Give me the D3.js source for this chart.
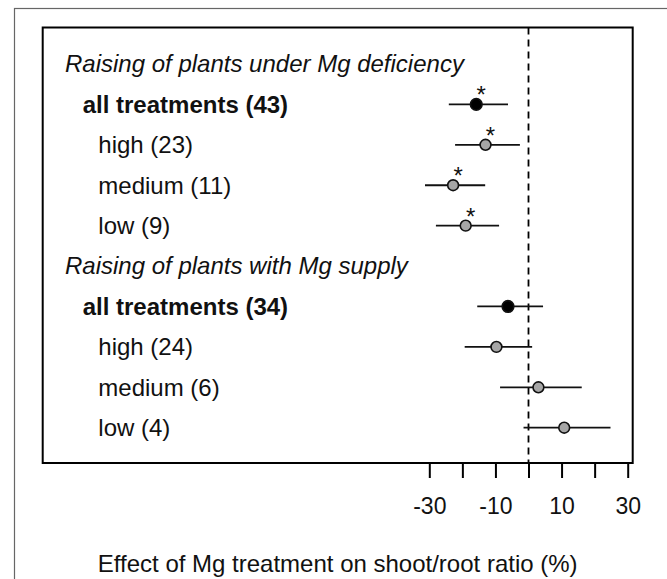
<!DOCTYPE html>
<meta charset='utf-8'>
<style>
	body { margin: 0; background: #fff; }
	svg { font-family: 'Liberation Sans', Arial, sans-serif; }
</style>
<body>
	<div id='container'></div>
<script src='https://d3js.org/d3.v7.min.js'></script>
<script>
	// rows, top to bottom
	const labels = [
		'Raising of plants under Mg deficiency',
		'all treatments (43)', 'high (23)', 'medium (11)', 'low (9)',
		'Raising of plants with Mg supply',
		'all treatments (34)', 'high (24)', 'medium (6)', 'low (4)',
	];
	const kinds = [ 'group', 'total', 'sub', 'sub', 'sub', 'group', 'total', 'sub', 'sub', 'sub' ];
	const means = [ null, -15.8, -13.0, -22.8, -19.0, null, -6.2, -9.7, 3.0, 10.8 ];
	const lower = [ null, -24.1, -22.2, -31.3, -28.0, null, -15.5, -19.3, -8.6, -1.5 ];
	const upper = [ null, -6.2, -2.6, -13.1, -8.9, null, 4.4, 1.1, 16.1, 24.8 ];
	const signif = [ false, true, true, true, true, false, false, false, false, false ];

	const ticks = [ -30, -20, -10, 0, 10, 20, 30 ];
	const tickLabels = [ '-30', '', '-10', '', '10', '', '30' ];
	const xTitle = 'Effect of Mg treatment on shoot/root ratio (%)';

	const W = 667, H = 579,
		box = { left: 42.7, top: 27.5, right: 632.7, bottom: 463 };

	const xScale = d3.scaleLinear()
		.domain( [ -30, 30 ] )
		.range( [ 429.3, 627.7 ] );
	const yScale = d3.scaleLinear()
		.domain( [ 0, labels.length - 1 ] )
		.range( [ 64, 427.7 ] );

	const svg = d3.select( '#container' )
		.append( 'svg' )
		.attr( 'width', W )
		.attr( 'height', H );

	// outer panel frame
	svg.append( 'rect' )
		.attr( 'x', 14.5 ).attr( 'y', 8.5 )
		.attr( 'width', 700 ).attr( 'height', 700 )
		.style( 'fill', 'none' )
		.style( 'stroke', '#666' )
		.style( 'stroke-width', 1.2 );

	// plot box
	svg.append( 'rect' )
		.attr( 'x', box.left ).attr( 'y', box.top )
		.attr( 'width', box.right - box.left )
		.attr( 'height', box.bottom - box.top )
		.style( 'fill', 'none' )
		.style( 'stroke', '#000' )
		.style( 'stroke-width', 2 );

	// zero line
	svg.append( 'line' )
		.attr( 'x1', xScale( 0 ) ).attr( 'x2', xScale( 0 ) )
		.attr( 'y1', box.top ).attr( 'y2', box.bottom )
		.style( 'stroke', '#000' )
		.style( 'stroke-width', 1.8 )
		.style( 'stroke-dasharray', '7,5' );

	// x axis
	const xAxis = d3.axisBottom( xScale )
		.tickValues( ticks )
		.tickFormat( ( d, i ) => tickLabels[ i ] )
		.tickSize( 15 )
		.tickPadding( 20 );

	const xAxisEl = svg.append( 'g' )
		.attr( 'transform', `translate( 0, ${box.bottom} )` )
		.call( xAxis );
	xAxisEl.select( '.domain' ).remove();
	xAxisEl.selectAll( 'line' ).style( 'stroke', '#000' ).style( 'stroke-width', 2 );
	xAxisEl.selectAll( 'text' )
		.style( 'font-family', "'Liberation Sans', Arial, sans-serif" )
		.style( 'font-size', '23px' )
		.style( 'fill', '#111' );

	svg.append( 'text' )
		.attr( 'x', ( box.left + box.right ) / 2 )
		.attr( 'y', 572 )
		.attr( 'text-anchor', 'middle' )
		.style( 'font-size', '24px' )
		.style( 'fill', '#111' )
		.text( xTitle );

	// row labels
	const indent = { group: 65, total: 82.7, sub: 98.3 };
	svg.append( 'g' ).selectAll( 'text' )
		.data( labels )
		.enter().append( 'text' )
			.attr( 'x', ( d, i ) => indent[ kinds[ i ] ] )
			.attr( 'y', ( d, i ) => yScale( i ) )
			.attr( 'dy', '.35em' )
			.style( 'font-size', '24px' )
			.style( 'font-style', ( d, i ) => kinds[ i ] === 'group' ? 'italic' : 'normal' )
			.style( 'font-weight', ( d, i ) => kinds[ i ] === 'total' ? 'bold' : 'normal' )
			.style( 'fill', '#111' )
			.text( d => d );

	const rows = d3.range( labels.length ).filter( i => means[ i ] !== null );

	// confidence intervals
	svg.append( 'g' ).selectAll( 'line' )
		.data( rows )
		.enter().append( 'line' )
			.attr( 'x1', i => xScale( lower[ i ] ) )
			.attr( 'x2', i => xScale( upper[ i ] ) )
			.attr( 'y1', i => yScale( i ) )
			.attr( 'y2', i => yScale( i ) )
			.style( 'stroke', '#111' )
			.style( 'stroke-width', 1.8 );

	// means
	svg.append( 'g' ).selectAll( 'circle' )
		.data( rows )
		.enter().append( 'circle' )
			.attr( 'cx', i => xScale( means[ i ] ) )
			.attr( 'cy', i => yScale( i ) )
			.attr( 'r', i => kinds[ i ] === 'total' ? 5.8 : 5.4 )
			.style( 'fill', i => kinds[ i ] === 'total' ? '#000' : '#a6a6a6' )
			.style( 'stroke', '#111' )
			.style( 'stroke-width', 1.6 );

	// significance marks
	svg.append( 'g' ).selectAll( 'text' )
		.data( rows.filter( i => signif[ i ] ) )
		.enter().append( 'text' )
			.attr( 'x', i => xScale( means[ i ] ) + 5 )
			.attr( 'y', i => yScale( i ) - 1 )
			.attr( 'text-anchor', 'middle' )
			.style( 'font-size', '24px' )
			.style( 'fill', '#111' )
			.text( '*' );
</script>
</body>
